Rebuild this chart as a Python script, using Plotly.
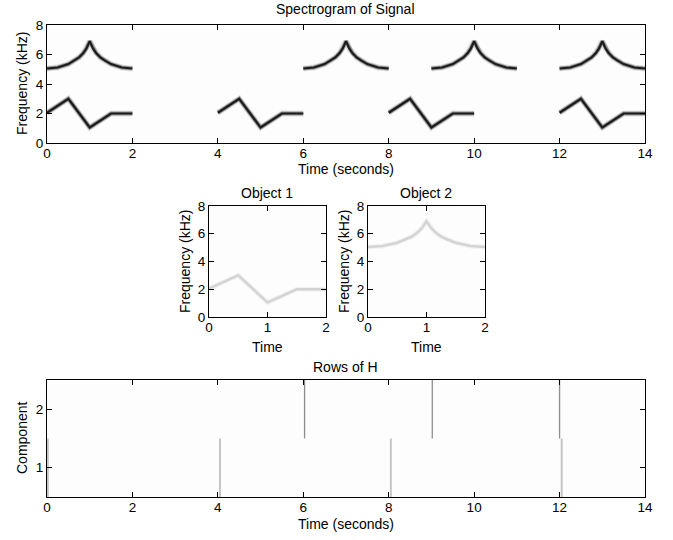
import plotly.graph_objects as go

# ---------------- data ----------------
obj1_t = [0.0, 0.5, 1.0, 1.5, 2.0]
obj1_f = [2.05, 3.0, 1.05, 2.0, 2.0]

obj2_t = [0.0, 0.25, 0.5, 0.65, 0.75, 0.85, 0.92, 1.0, 1.08, 1.15, 1.25, 1.35, 1.5, 1.75, 2.0]
obj2_f = [5.05, 5.12, 5.35, 5.6, 5.8, 6.1, 6.4, 6.9, 6.4, 6.1, 5.8, 5.6, 5.35, 5.12, 5.05]

obj1_onsets = [0, 4, 8, 12]
obj2_onsets = [0, 6, 9, 12]

h1_times = [0.02, 4.05, 8.05, 12.05]
h2_times = [6.03, 9.02, 12.0]

x_ticks_main = [0, 2, 4, 6, 8, 10, 12, 14]
y_ticks_freq = [0, 2, 4, 6, 8]
x_ticks_obj = [0, 1, 2]
y_ticks_comp = [1, 2]

# ---------------- helpers ----------------
W, H = 673, 540
FONT = "Liberation Sans, Arial, Helvetica, sans-serif"


def px_x(p):
    return p / W


def px_y(p):
    return 1 - p / H


def joined(onsets, t, f):
    xs, ys = [], []
    for o in onsets:
        xs += [o + v for v in t] + [None]
        ys += list(f) + [None]
    return xs, ys


def vlines(times, comp):
    xs, ys = [], []
    for v in times:
        xs += [v, v, None]
        ys += [comp - 0.5, comp + 0.5, None]
    return xs, ys


fig = go.Figure()

# top spectrogram: layered strokes for a soft spectrogram look
for onsets, t, f in [(obj1_onsets, obj1_t, obj1_f), (obj2_onsets, obj2_t, obj2_f)]:
    xs, ys = joined(onsets, t, f)
    for w, c in [(6, "rgba(0,0,0,0.10)"), (4, "rgba(0,0,0,0.35)"), (2.2, "#1c1c1c")]:
        fig.add_trace(go.Scatter(x=xs, y=ys, mode="lines", line=dict(color=c, width=w),
                                 xaxis="x", yaxis="y", hoverinfo="skip", showlegend=False))

# object panels
for ax, (t, f) in [("2", (obj1_t, obj1_f)), ("3", (obj2_t, obj2_f))]:
    for w, c in [(5, "rgba(0,0,0,0.04)"), (2.6, "#d4d4d4")]:
        fig.add_trace(go.Scatter(x=t, y=f, mode="lines", line=dict(color=c, width=w),
                                 xaxis="x" + ax, yaxis="y" + ax, hoverinfo="skip", showlegend=False))

# rows of H
xs, ys = vlines(h1_times, 1)
fig.add_trace(go.Scatter(x=xs, y=ys, mode="lines", line=dict(color="#c6c6c6", width=2),
                         xaxis="x4", yaxis="y4", hoverinfo="skip", showlegend=False))
xs, ys = vlines(h2_times, 2)
fig.add_trace(go.Scatter(x=xs, y=ys, mode="lines", line=dict(color="#8e8e8e", width=1.3),
                         xaxis="x4", yaxis="y4", hoverinfo="skip", showlegend=False))

axis_common = dict(showline=True, linecolor="black", linewidth=1.3, mirror="ticks",
                   ticks="inside", ticklen=5, tickcolor="black", tickwidth=1,
                   showgrid=False, zeroline=False, automargin=False,
                   tickfont=dict(family=FONT, size=13.5, color="black"))

# domains
top_x = [px_x(47), px_x(645)]
top_y = [px_y(143), px_y(25)]
o1_x = [px_x(209), px_x(326)]
o2_x = [px_x(368), px_x(485)]
o_y = [px_y(317), px_y(206)]
h_x = [px_x(47), px_x(645)]
h_y = [px_y(497), px_y(380)]

xa = dict(ticklabelstandoff=-2, **axis_common)
ya = dict(axis_common)

fig.update_layout(
    width=W, height=H,
    margin=dict(l=0, r=0, t=0, b=0),
    paper_bgcolor="white", plot_bgcolor="#fdfdfd",
    showlegend=False,
    xaxis=dict(domain=top_x, range=[0, 14], tickvals=x_ticks_main, anchor="y", **xa),
    yaxis=dict(domain=top_y, range=[0, 8], tickvals=y_ticks_freq, anchor="x", **ya),
    xaxis2=dict(domain=o1_x, range=[0, 2], tickvals=x_ticks_obj, anchor="y2", **xa),
    yaxis2=dict(domain=o_y, range=[0, 8], tickvals=y_ticks_freq, anchor="x2", **ya),
    xaxis3=dict(domain=o2_x, range=[0, 2], tickvals=x_ticks_obj, anchor="y3", **xa),
    yaxis3=dict(domain=o_y, range=[0, 8], tickvals=y_ticks_freq, anchor="x3", **ya),
    xaxis4=dict(domain=h_x, range=[0, 14], tickvals=x_ticks_main, anchor="y4", **xa),
    yaxis4=dict(domain=h_y, range=[0.5, 2.5], tickvals=y_ticks_comp, anchor="x4", **ya),
)

texts = [
    ("Spectrogram of Signal", 346, 9, 0, 14),
    ("Time (seconds)", 346, 169, 0, 14),
    ("Frequency (kHz)", 22, 84, -90, 14),
    ("Object 1", 267, 193, 0, 14),
    ("Object 2", 426, 193, 0, 14),
    ("Time", 267, 347, 0, 14),
    ("Time", 426, 347, 0, 14),
    ("Frequency (kHz)", 185, 262, -90, 14),
    ("Frequency (kHz)", 344, 262, -90, 14),
    ("Rows of H", 346, 367, 0, 14),
    ("Time (seconds)", 346, 524, 0, 14),
    ("Component", 22, 438, -90, 14),
]
for txt, x, y, ang, sz in texts:
    fig.add_annotation(text=txt, x=px_x(x), y=px_y(y), xref="paper", yref="paper",
                       xanchor="center", yanchor="middle", showarrow=False, textangle=ang,
                       font=dict(family=FONT, size=sz, color="black"))

fig.write_html("out.html", config={"displayModeBar": False},
               post_script="document.body.style.margin='0';document.body.style.padding='0';")
